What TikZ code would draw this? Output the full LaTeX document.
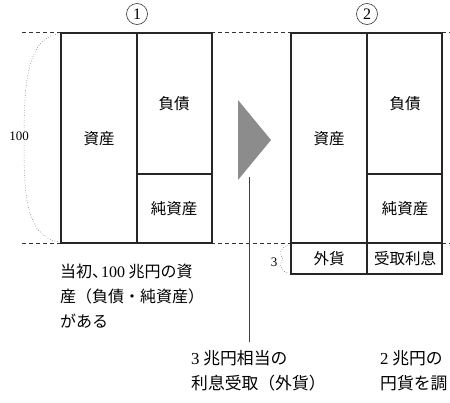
\documentclass[tikz,border=0pt]{standalone}
\usepackage{fontspec}
\setmainfont{Noto Sans CJK JP}
\newfontfamily\numf{Liberation Serif}
\newcommand{\nm}[1]{{\numf #1}}
\newcommand{\halfcomma}{\makebox[0.55em][l]{、}}
\tikzset{
  boxline/.style={draw=black!85, line width=1.6pt},
  guide/.style={draw=black!80, dashed, line width=0.7pt, dash pattern=on 4pt off 3pt},
  bracel/.style={draw=black!70, line width=0.5pt, dotted},
  lbl/.style={font=\fontsize{15.5}{15.5}\selectfont, inner sep=0pt},
  body/.style={font=\fontsize{16}{25}\selectfont, align=left, inner sep=0pt},
  bodyb/.style={font=\fontsize{16.8}{25}\selectfont, align=left, inner sep=0pt},
  circnum/.style={draw=black!80, circle, line width=0.6pt, minimum size=21pt, inner sep=0pt, font=\numf\fontsize{16}{16}\selectfont},
  arrowtri/.style={fill=black!45, draw=none}
}
\begin{document}
\begin{tikzpicture}[x=1pt,y=-1pt]
\useasboundingbox (0,0) rectangle (450,402);
\clip (0,0) rectangle (450,402);
% guide lines
\coordinate (gt0) at (22,32); \coordinate (gt1) at (450,32);
\coordinate (gb0) at (22,243); \coordinate (gb1) at (450,243);
\draw[guide] (gt0) -- (gt1);
\draw[guide] (gb0) -- (gb1);
% circle numbers
\node[circnum] (c1) at (137,14) {1};
\node[circnum] (c2) at (367,14) {2};
% diagram 1
\fill[white] (61,33) rectangle (212,243);
\draw[boxline] (61,33) rectangle (212,243);
\draw[boxline] (137,33) -- (137,243);
\draw[boxline] (137,174) -- (212,174);
\node[lbl] (a1) at (99,139) {資産};
\node[lbl] (l1) at (174,104) {負債};
\node[lbl] (n1) at (174,209) {純資産};
% brace 100
\coordinate (b1s) at (58,34); \coordinate (b1e) at (59,242);
\draw[bracel] (b1s) .. controls (26,38) and (24,90) .. (24,138) .. controls (24,190) and (24,236) .. (b1e);
\node[fill=white, inner sep=1pt, font=\numf\fontsize{13}{13}\selectfont] (h100) at (19,136) {100};
% triangle
\fill[arrowtri] (238,100) -- (271,140) -- (238,180) -- cycle;
\coordinate (vt) at (249,177); \coordinate (vb) at (249,342);
\draw[draw=black!75, line width=0.9pt] (vt) -- (vb);
% diagram 2
\fill[white] (291,33) rectangle (442,274);
\draw[boxline] (291,33) rectangle (442,274);
\draw[boxline] (367,33) -- (367,274);
\draw[boxline] (367,174) -- (442,174);
\draw[boxline] (291,243) -- (442,243);
\node[lbl] (a2) at (329,139) {資産};
\node[lbl] (l2) at (405,104) {負債};
\node[lbl] (n2) at (405,209) {純資産};
\node[lbl] (f2) at (329,259) {外貨};
\node[lbl] (r2) at (405,259) {受取利息};
% brace 3
\coordinate (b3s) at (288,245); \coordinate (b3e) at (288,273);
\draw[bracel] (b3s) .. controls (278,248) and (280,256) .. (283,259) .. controls (280,262) and (278,270) .. (b3e);
\node[font=\numf\fontsize{13}{13}\selectfont, inner sep=0pt] (h3) at (274,262) {3};
% texts
\node[body, anchor=north west] (t1) at (60,264) {当初\halfcomma\nm{100} 兆円の資\\産（負債・純資産）\\がある};
\node[bodyb, anchor=north west] (t2) at (191,350) {\nm{3} 兆円相当の\\利息受取（外貨）};
\node[bodyb, anchor=north west] (t3) at (380,350) {\nm{2} 兆円の\\円貨を調};
\end{tikzpicture}
\end{document}
